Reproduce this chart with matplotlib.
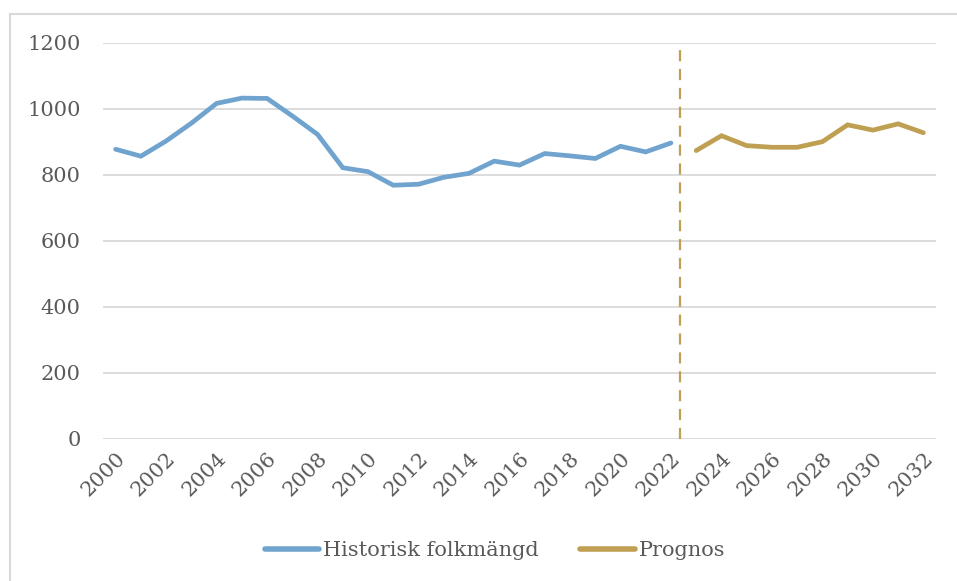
import matplotlib.pyplot as plt
from matplotlib.lines import Line2D

hist_years = list(range(2000, 2023))
hist_vals = [878, 857, 903, 957, 1017, 1033, 1032, 979, 923, 822, 810, 769,
             772, 793, 805, 842, 830, 865, 858, 850, 887, 870, 897]
prog_years = list(range(2023, 2033))
prog_vals = [874, 919, 889, 884, 884, 901, 952, 936, 955, 928]
tick_years = list(range(2000, 2033, 2))
y_ticks = [0, 200, 400, 600, 800, 1000, 1200]

blue = '#70A4CF'
gold = '#BF9F52'
txt = '#595959'

plt.rcParams['font.family'] = ['DejaVu Serif']

fig = plt.figure(figsize=(9.57, 5.81), dpi=100)
ax = fig.add_axes([103/957, 1 - 439/581, (936-103)/957, (439-43)/581])

# chart border (cropped at right and bottom)
fig.add_artist(Line2D([10/957, 1], [1 - 14/581, 1 - 14/581], color='#D9D9D9', lw=1.5))
fig.add_artist(Line2D([10/957, 10/957], [0, 1 - 14/581], color='#D9D9D9', lw=1.5))

for v in y_ticks:
    ax.axhline(v, color='#D9D9D9', lw=1.3, zorder=0)

ax.plot(hist_years, hist_vals, color=blue, lw=3.4, solid_capstyle='round',
        solid_joinstyle='miter', label='Historisk folkmängd')
ax.plot(prog_years, prog_vals, color=gold, lw=3.4, solid_capstyle='round',
        solid_joinstyle='miter', label='Prognos')
ax.axvline(2022.35, ymin=0, ymax=0.983, color=gold, lw=1.6, ls=(0, (5, 3.5)))

ax.set_xlim(1999.5, 2032.5)
ax.set_ylim(0, 1200)
ax.set_yticks(y_ticks)
ax.set_yticklabels([str(v) for v in y_ticks], fontsize=15, color=txt)
ax.set_xticks(tick_years)
ax.set_xticklabels([str(v) for v in tick_years], fontsize=15, color=txt,
                   rotation=45, ha='right', rotation_mode='anchor')
ax.tick_params(axis='both', length=0)
ax.tick_params(axis='y', pad=16)
ax.tick_params(axis='x', pad=7)
for s in ax.spines.values():
    s.set_visible(False)

leg = fig.legend(loc='center', bbox_to_anchor=(495/957, 1 - 551/581), ncol=2,
                 frameon=False, fontsize=15, handlelength=2.6, columnspacing=2.0,
                 handletextpad=0.2)
for t in leg.get_texts():
    t.set_color(txt)
for h in leg.get_lines():
    h.set_linewidth(4)

fig.savefig('out.png', dpi=100, facecolor='white')
